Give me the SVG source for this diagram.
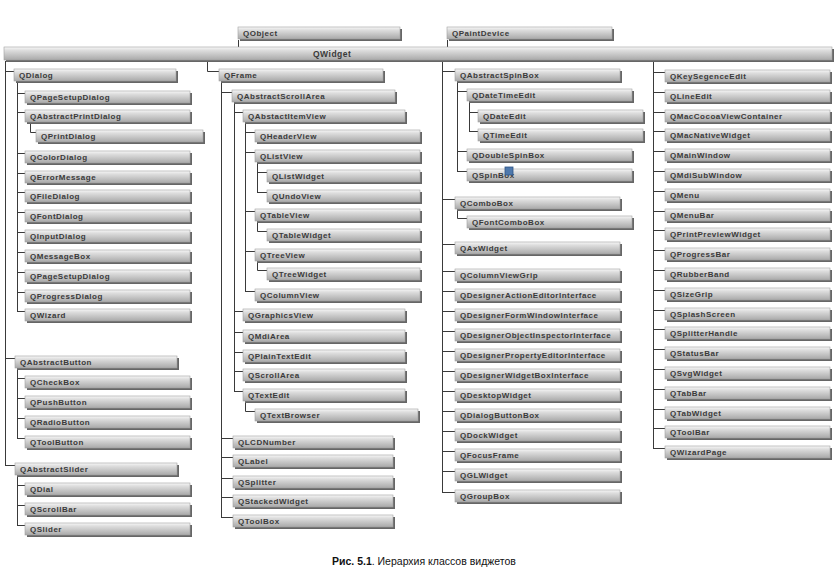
<svg xmlns="http://www.w3.org/2000/svg" width="840" height="577" viewBox="0 0 840 577">
<defs>
<linearGradient id="g" x1="0" y1="0" x2="0" y2="1">
<stop offset="0" stop-color="#f8f8f8"/>
<stop offset="0.25" stop-color="#dedede"/>
<stop offset="1" stop-color="#a9a9a9"/>
</linearGradient>
</defs>
<style>
.s{fill:#666}
.b{fill:url(#g);stroke:#a0a0a0;stroke-width:0.6}
.t{font-family:"Liberation Sans",Arial,sans-serif;font-weight:bold;font-size:8px;fill:#3a3a3a;letter-spacing:0.5px}
.c{fill:none;stroke:#3a3a3a;stroke-width:1}
.cap{font-family:"Liberation Sans",Arial,sans-serif;font-size:10.5px;fill:#111}
</style>
<rect width="840" height="577" fill="#fff"/>

<g id="connectors" class="c">
<path d="M238.5 40 V47 M447.5 40 V47"/>
<!-- column 1 -->
<path d="M5.5 61 V465 M5 71.5 H14 M5 358.5 H15 M5 465.5 H15"/>
<path d="M17.5 81 V311 M17 93.5 H25 M17 112.5 H25 M17 153.5 H25 M17 173.5 H25 M17 192.5 H25 M17 212.5 H25 M17 232.5 H25 M17 252.5 H25 M17 272.5 H25 M17 292.5 H25 M17 311.5 H25"/>
<path d="M30.5 122 V132.5 H36"/>
<path d="M17.5 368 V438 M17 378.5 H25 M17 398.5 H25 M17 418.5 H25 M17 438.5 H25"/>
<path d="M17.5 475 V525 M17 485.5 H25 M17 505.5 H25 M17 525.5 H25"/>
<!-- column 2 -->
<path d="M207.5 61 V71.5 H219"/>
<path d="M221.5 81 V517 M221 92.5 H232 M221 438.5 H233 M221 457.5 H233 M221 478.5 H233 M221 497.5 H233 M221 517.5 H233"/>
<path d="M234.5 102 V391 M234 112.5 H243 M234 311.5 H243 M234 332.5 H243 M234 352.5 H243 M234 371.5 H243 M234 391.5 H243"/>
<path d="M245.5 122 V291 M245 132.5 H255 M245 152.5 H255 M245 211.5 H255 M245 251.5 H255 M245 291.5 H255"/>
<path d="M257.5 162 V192 M257 172.5 H267 M257 192.5 H267"/>
<path d="M257.5 221 V231.5 H267 M257.5 261 V270.5 H267"/>
<path d="M245.5 401 V411.5 H255"/>
<!-- column 3 -->
<path d="M442.5 61 V492 M442 71.5 H455 M442 199.5 H455 M442 244.5 H455 M442 271.5 H455 M442 291.5 H455 M442 311.5 H455 M442 331.5 H455 M442 351.5 H455 M442 371.5 H455 M442 391.5 H455 M442 411.5 H455 M442 431.5 H455 M442 451.5 H455 M442 471.5 H455 M442 492.5 H455"/>
<path d="M457.5 81 V171 M457 91.5 H467 M457 151.5 H467 M457 171.5 H467"/>
<path d="M469.5 101 V131 M469 112.5 H478 M469 131.5 H478"/>
<path d="M457.5 209 V218.5 H467"/>
<!-- column 4 -->
<path d="M653.5 61 V448 M653 72.5 H665 M653 92.5 H665 M653 112.5 H665 M653 131.5 H665 M653 151.5 H665 M653 171.5 H665 M653 191.5 H665 M653 211.5 H665 M653 230.5 H665 M653 250.5 H665 M653 270.5 H665 M653 290.5 H665 M653 310.5 H665 M653 329.5 H665 M653 349.5 H665 M653 369.5 H665 M653 389.5 H665 M653 409.5 H665 M653 428.5 H665 M653 448.5 H665"/>
</g>

<g id="QObject"><rect class="s" x="240" y="29" width="162" height="12"/><rect class="b" x="238" y="27" width="162" height="12"/><text class="t" x="243" y="36">QObject</text></g>
<g id="QPaintDevice"><rect class="s" x="449" y="29" width="165" height="12"/><rect class="b" x="447" y="27" width="165" height="12"/><text class="t" x="452" y="36">QPaintDevice</text></g>
<g id="QWidget"><rect class="s" x="6" y="49" width="828" height="13"/><rect class="b" x="4" y="47" width="828" height="13"/><text class="t" x="313" y="57" style="font-size:8.5px">QWidget</text></g>

<!-- column 1 -->
<g id="QDialog"><rect class="s" x="16" y="71" width="162" height="12"/><rect class="b" x="14" y="69" width="162" height="12"/><text class="t" x="19" y="78">QDialog</text></g>
<g id="QPageSetupDialog"><rect class="s" x="27" y="93" width="165" height="12"/><rect class="b" x="25" y="91" width="165" height="12"/><text class="t" x="30" y="100">QPageSetupDialog</text></g>
<g id="QAbstractPrintDialog"><rect class="s" x="27" y="112" width="165" height="12"/><rect class="b" x="25" y="110" width="165" height="12"/><text class="t" x="30" y="119">QAbstractPrintDialog</text></g>
<g id="QPrintDialog"><rect class="s" x="38" y="132" width="167" height="12"/><rect class="b" x="36" y="130" width="167" height="12"/><text class="t" x="41" y="139">QPrintDialog</text></g>
<g id="QColorDialog"><rect class="s" x="27" y="153" width="165" height="12"/><rect class="b" x="25" y="151" width="165" height="12"/><text class="t" x="30" y="160">QColorDialog</text></g>
<g id="QErrorMessage"><rect class="s" x="27" y="173" width="165" height="12"/><rect class="b" x="25" y="171" width="165" height="12"/><text class="t" x="30" y="180">QErrorMessage</text></g>
<g id="QFileDialog"><rect class="s" x="27" y="192" width="165" height="12"/><rect class="b" x="25" y="190" width="165" height="12"/><text class="t" x="30" y="199">QFileDialog</text></g>
<g id="QFontDialog"><rect class="s" x="27" y="212" width="165" height="12"/><rect class="b" x="25" y="210" width="165" height="12"/><text class="t" x="30" y="219">QFontDialog</text></g>
<g id="QInputDialog"><rect class="s" x="27" y="232" width="165" height="12"/><rect class="b" x="25" y="230" width="165" height="12"/><text class="t" x="30" y="239">QInputDialog</text></g>
<g id="QMessageBox"><rect class="s" x="27" y="252" width="165" height="12"/><rect class="b" x="25" y="250" width="165" height="12"/><text class="t" x="30" y="259">QMessageBox</text></g>
<g id="QPageSetupDialog2"><rect class="s" x="27" y="272" width="165" height="12"/><rect class="b" x="25" y="270" width="165" height="12"/><text class="t" x="30" y="279">QPageSetupDialog</text></g>
<g id="QProgressDialog"><rect class="s" x="27" y="292" width="165" height="12"/><rect class="b" x="25" y="290" width="165" height="12"/><text class="t" x="30" y="299">QProgressDialog</text></g>
<g id="QWizard"><rect class="s" x="27" y="311" width="165" height="12"/><rect class="b" x="25" y="309" width="165" height="12"/><text class="t" x="30" y="318">QWizard</text></g>
<g id="QAbstractButton"><rect class="s" x="17" y="358" width="162" height="12"/><rect class="b" x="15" y="356" width="162" height="12"/><text class="t" x="20" y="365">QAbstractButton</text></g>
<g id="QCheckBox"><rect class="s" x="27" y="378" width="165" height="12"/><rect class="b" x="25" y="376" width="165" height="12"/><text class="t" x="30" y="385">QCheckBox</text></g>
<g id="QPushButton"><rect class="s" x="27" y="398" width="165" height="12"/><rect class="b" x="25" y="396" width="165" height="12"/><text class="t" x="30" y="405">QPushButton</text></g>
<g id="QRadioButton"><rect class="s" x="27" y="418" width="165" height="12"/><rect class="b" x="25" y="416" width="165" height="12"/><text class="t" x="30" y="425">QRadioButton</text></g>
<g id="QToolButton"><rect class="s" x="27" y="438" width="165" height="12"/><rect class="b" x="25" y="436" width="165" height="12"/><text class="t" x="30" y="445">QToolButton</text></g>
<g id="QAbstractSlider"><rect class="s" x="17" y="465" width="162" height="12"/><rect class="b" x="15" y="463" width="162" height="12"/><text class="t" x="20" y="472">QAbstractSlider</text></g>
<g id="QDial"><rect class="s" x="27" y="485" width="165" height="12"/><rect class="b" x="25" y="483" width="165" height="12"/><text class="t" x="30" y="492">QDial</text></g>
<g id="QScrollBar"><rect class="s" x="27" y="505" width="165" height="12"/><rect class="b" x="25" y="503" width="165" height="12"/><text class="t" x="30" y="512">QScrollBar</text></g>
<g id="QSlider"><rect class="s" x="27" y="525" width="165" height="12"/><rect class="b" x="25" y="523" width="165" height="12"/><text class="t" x="30" y="532">QSlider</text></g>

<!-- column 2 -->
<g id="QFrame"><rect class="s" x="221" y="71" width="164" height="12"/><rect class="b" x="219" y="69" width="164" height="12"/><text class="t" x="224" y="78">QFrame</text></g>
<g id="QAbstractScrollArea"><rect class="s" x="234" y="92" width="163" height="12"/><rect class="b" x="232" y="90" width="163" height="12"/><text class="t" x="237" y="99">QAbstractScrollArea</text></g>
<g id="QAbstactItemView"><rect class="s" x="245" y="112" width="162" height="12"/><rect class="b" x="243" y="110" width="162" height="12"/><text class="t" x="248" y="119">QAbstactItemView</text></g>
<g id="QHeaderView"><rect class="s" x="257" y="132" width="165" height="12"/><rect class="b" x="255" y="130" width="165" height="12"/><text class="t" x="260" y="139">QHeaderView</text></g>
<g id="QListView"><rect class="s" x="257" y="152" width="165" height="12"/><rect class="b" x="255" y="150" width="165" height="12"/><text class="t" x="260" y="159">QListView</text></g>
<g id="QListWidget"><rect class="s" x="269" y="172" width="153" height="12"/><rect class="b" x="267" y="170" width="153" height="12"/><text class="t" x="272" y="179">QListWidget</text></g>
<g id="QUndoView"><rect class="s" x="269" y="192" width="153" height="12"/><rect class="b" x="267" y="190" width="153" height="12"/><text class="t" x="272" y="199">QUndoView</text></g>
<g id="QTableView"><rect class="s" x="257" y="211" width="165" height="12"/><rect class="b" x="255" y="209" width="165" height="12"/><text class="t" x="260" y="218">QTableView</text></g>
<g id="QTableWidget"><rect class="s" x="269" y="231" width="153" height="12"/><rect class="b" x="267" y="229" width="153" height="12"/><text class="t" x="272" y="238">QTableWidget</text></g>
<g id="QTreeView"><rect class="s" x="257" y="251" width="165" height="12"/><rect class="b" x="255" y="249" width="165" height="12"/><text class="t" x="260" y="258">QTreeView</text></g>
<g id="QTreeWidget"><rect class="s" x="269" y="270" width="153" height="12"/><rect class="b" x="267" y="268" width="153" height="12"/><text class="t" x="272" y="277">QTreeWidget</text></g>
<g id="QColumnView"><rect class="s" x="257" y="291" width="165" height="12"/><rect class="b" x="255" y="289" width="165" height="12"/><text class="t" x="260" y="298">QColumnView</text></g>
<g id="QGraphicsView"><rect class="s" x="245" y="311" width="162" height="12"/><rect class="b" x="243" y="309" width="162" height="12"/><text class="t" x="248" y="318">QGraphicsView</text></g>
<g id="QMdiArea"><rect class="s" x="245" y="332" width="162" height="12"/><rect class="b" x="243" y="330" width="162" height="12"/><text class="t" x="248" y="339">QMdiArea</text></g>
<g id="QPlainTextEdit"><rect class="s" x="245" y="352" width="162" height="12"/><rect class="b" x="243" y="350" width="162" height="12"/><text class="t" x="248" y="359">QPlainTextEdit</text></g>
<g id="QScrollArea"><rect class="s" x="245" y="371" width="162" height="12"/><rect class="b" x="243" y="369" width="162" height="12"/><text class="t" x="248" y="378">QScrollArea</text></g>
<g id="QTextEdit"><rect class="s" x="245" y="391" width="162" height="12"/><rect class="b" x="243" y="389" width="162" height="12"/><text class="t" x="248" y="398">QTextEdit</text></g>
<g id="QTextBrowser"><rect class="s" x="257" y="411" width="163" height="12"/><rect class="b" x="255" y="409" width="163" height="12"/><text class="t" x="260" y="418">QTextBrowser</text></g>
<g id="QLCDNumber"><rect class="s" x="235" y="438" width="160" height="12"/><rect class="b" x="233" y="436" width="160" height="12"/><text class="t" x="238" y="445">QLCDNumber</text></g>
<g id="QLabel"><rect class="s" x="235" y="457" width="160" height="12"/><rect class="b" x="233" y="455" width="160" height="12"/><text class="t" x="238" y="464">QLabel</text></g>
<g id="QSplitter"><rect class="s" x="235" y="478" width="160" height="12"/><rect class="b" x="233" y="476" width="160" height="12"/><text class="t" x="238" y="485">QSplitter</text></g>
<g id="QStackedWidget"><rect class="s" x="235" y="497" width="160" height="12"/><rect class="b" x="233" y="495" width="160" height="12"/><text class="t" x="238" y="504">QStackedWidget</text></g>
<g id="QToolBox"><rect class="s" x="235" y="517" width="160" height="12"/><rect class="b" x="233" y="515" width="160" height="12"/><text class="t" x="238" y="524">QToolBox</text></g>

<!-- column 3 -->
<g id="QAbstractSpinBox"><rect class="s" x="457" y="71" width="165" height="12"/><rect class="b" x="455" y="69" width="165" height="12"/><text class="t" x="460" y="78">QAbstractSpinBox</text></g>
<g id="QDateTimeEdit"><rect class="s" x="469" y="91" width="165" height="12"/><rect class="b" x="467" y="89" width="165" height="12"/><text class="t" x="472" y="98">QDateTimeEdit</text></g>
<g id="QDateEdit"><rect class="s" x="480" y="112" width="165" height="12"/><rect class="b" x="478" y="110" width="165" height="12"/><text class="t" x="483" y="119">QDateEdit</text></g>
<g id="QTimeEdit"><rect class="s" x="480" y="131" width="165" height="12"/><rect class="b" x="478" y="129" width="165" height="12"/><text class="t" x="483" y="138">QTimeEdit</text></g>
<g id="QDoubleSpinBox"><rect class="s" x="469" y="151" width="165" height="12"/><rect class="b" x="467" y="149" width="165" height="12"/><text class="t" x="472" y="158">QDoubleSpinBox</text></g>
<g id="QSpinBox"><rect class="s" x="469" y="171" width="165" height="12"/><rect class="b" x="467" y="169" width="165" height="12"/><text class="t" x="472" y="178">QSpinBox</text><rect x="505" y="167" width="8" height="8" fill="#4f79ad" stroke="#2f5585" stroke-width="0.8"/></g>
<g id="QComboBox"><rect class="s" x="457" y="199" width="165" height="12"/><rect class="b" x="455" y="197" width="165" height="12"/><text class="t" x="460" y="206">QComboBox</text></g>
<g id="QFontComboBox"><rect class="s" x="469" y="218" width="165" height="12"/><rect class="b" x="467" y="216" width="165" height="12"/><text class="t" x="472" y="225">QFontComboBox</text></g>
<g id="QAxWidget"><rect class="s" x="457" y="244" width="165" height="12"/><rect class="b" x="455" y="242" width="165" height="12"/><text class="t" x="460" y="251">QAxWidget</text></g>
<g id="QColumnViewGrip"><rect class="s" x="457" y="271" width="165" height="12"/><rect class="b" x="455" y="269" width="165" height="12"/><text class="t" x="460" y="278">QColumnViewGrip</text></g>
<g id="QDesignerActionEditorInterface"><rect class="s" x="457" y="291" width="165" height="12"/><rect class="b" x="455" y="289" width="165" height="12"/><text class="t" x="460" y="298">QDesignerActionEditorInterface</text></g>
<g id="QDesignerFormWindowInterface"><rect class="s" x="457" y="311" width="165" height="12"/><rect class="b" x="455" y="309" width="165" height="12"/><text class="t" x="460" y="318">QDesignerFormWindowInterface</text></g>
<g id="QDesignerObjectInspectorInterface"><rect class="s" x="457" y="331" width="165" height="12"/><rect class="b" x="455" y="329" width="165" height="12"/><text class="t" x="460" y="338">QDesignerObjectInspectorInterface</text></g>
<g id="QDesignerPropertyEditorInterface"><rect class="s" x="457" y="351" width="165" height="12"/><rect class="b" x="455" y="349" width="165" height="12"/><text class="t" x="460" y="358">QDesignerPropertyEditorInterface</text></g>
<g id="QDesignerWidgetBoxInterface"><rect class="s" x="457" y="371" width="165" height="12"/><rect class="b" x="455" y="369" width="165" height="12"/><text class="t" x="460" y="378">QDesignerWidgetBoxInterface</text></g>
<g id="QDesktopWidget"><rect class="s" x="457" y="391" width="165" height="12"/><rect class="b" x="455" y="389" width="165" height="12"/><text class="t" x="460" y="398">QDesktopWidget</text></g>
<g id="QDialogButtonBox"><rect class="s" x="457" y="411" width="165" height="12"/><rect class="b" x="455" y="409" width="165" height="12"/><text class="t" x="460" y="418">QDialogButtonBox</text></g>
<g id="QDockWidget"><rect class="s" x="457" y="431" width="165" height="12"/><rect class="b" x="455" y="429" width="165" height="12"/><text class="t" x="460" y="438">QDockWidget</text></g>
<g id="QFocusFrame"><rect class="s" x="457" y="451" width="165" height="12"/><rect class="b" x="455" y="449" width="165" height="12"/><text class="t" x="460" y="458">QFocusFrame</text></g>
<g id="QGLWidget"><rect class="s" x="457" y="471" width="165" height="12"/><rect class="b" x="455" y="469" width="165" height="12"/><text class="t" x="460" y="478">QGLWidget</text></g>
<g id="QGroupBox"><rect class="s" x="457" y="492" width="165" height="12"/><rect class="b" x="455" y="490" width="165" height="12"/><text class="t" x="460" y="499">QGroupBox</text></g>

<!-- column 4 -->
<g id="QKeySegenceEdit"><rect class="s" x="667" y="72" width="165" height="12"/><rect class="b" x="665" y="70" width="165" height="12"/><text class="t" x="670" y="79">QKeySegenceEdit</text></g>
<g id="QLineEdit"><rect class="s" x="667" y="92" width="165" height="12"/><rect class="b" x="665" y="90" width="165" height="12"/><text class="t" x="670" y="99">QLineEdit</text></g>
<g id="QMacCocoaViewContainer"><rect class="s" x="667" y="112" width="165" height="12"/><rect class="b" x="665" y="110" width="165" height="12"/><text class="t" x="670" y="119">QMacCocoaViewContainer</text></g>
<g id="QMacNativeWidget"><rect class="s" x="667" y="131" width="165" height="12"/><rect class="b" x="665" y="129" width="165" height="12"/><text class="t" x="670" y="138">QMacNativeWidget</text></g>
<g id="QMainWindow"><rect class="s" x="667" y="151" width="165" height="12"/><rect class="b" x="665" y="149" width="165" height="12"/><text class="t" x="670" y="158">QMainWindow</text></g>
<g id="QMdiSubWindow"><rect class="s" x="667" y="171" width="165" height="12"/><rect class="b" x="665" y="169" width="165" height="12"/><text class="t" x="670" y="178">QMdiSubWindow</text></g>
<g id="QMenu"><rect class="s" x="667" y="191" width="165" height="12"/><rect class="b" x="665" y="189" width="165" height="12"/><text class="t" x="670" y="198">QMenu</text></g>
<g id="QMenuBar"><rect class="s" x="667" y="211" width="165" height="12"/><rect class="b" x="665" y="209" width="165" height="12"/><text class="t" x="670" y="218">QMenuBar</text></g>
<g id="QPrintPreviewWidget"><rect class="s" x="667" y="230" width="165" height="12"/><rect class="b" x="665" y="228" width="165" height="12"/><text class="t" x="670" y="237">QPrintPreviewWidget</text></g>
<g id="QProgressBar"><rect class="s" x="667" y="250" width="165" height="12"/><rect class="b" x="665" y="248" width="165" height="12"/><text class="t" x="670" y="257">QProgressBar</text></g>
<g id="QRubberBand"><rect class="s" x="667" y="270" width="165" height="12"/><rect class="b" x="665" y="268" width="165" height="12"/><text class="t" x="670" y="277">QRubberBand</text></g>
<g id="QSizeGrip"><rect class="s" x="667" y="290" width="165" height="12"/><rect class="b" x="665" y="288" width="165" height="12"/><text class="t" x="670" y="297">QSizeGrip</text></g>
<g id="QSplashScreen"><rect class="s" x="667" y="310" width="165" height="12"/><rect class="b" x="665" y="308" width="165" height="12"/><text class="t" x="670" y="317">QSplashScreen</text></g>
<g id="QSplitterHandle"><rect class="s" x="667" y="329" width="165" height="12"/><rect class="b" x="665" y="327" width="165" height="12"/><text class="t" x="670" y="336">QSplitterHandle</text></g>
<g id="QStatusBar"><rect class="s" x="667" y="349" width="165" height="12"/><rect class="b" x="665" y="347" width="165" height="12"/><text class="t" x="670" y="356">QStatusBar</text></g>
<g id="QSvgWidget"><rect class="s" x="667" y="369" width="165" height="12"/><rect class="b" x="665" y="367" width="165" height="12"/><text class="t" x="670" y="376">QSvgWidget</text></g>
<g id="QTabBar"><rect class="s" x="667" y="389" width="165" height="12"/><rect class="b" x="665" y="387" width="165" height="12"/><text class="t" x="670" y="396">QTabBar</text></g>
<g id="QTabWidget"><rect class="s" x="667" y="409" width="165" height="12"/><rect class="b" x="665" y="407" width="165" height="12"/><text class="t" x="670" y="416">QTabWidget</text></g>
<g id="QToolBar"><rect class="s" x="667" y="428" width="165" height="12"/><rect class="b" x="665" y="426" width="165" height="12"/><text class="t" x="670" y="435">QToolBar</text></g>
<g id="QWizardPage"><rect class="s" x="667" y="448" width="165" height="12"/><rect class="b" x="665" y="446" width="165" height="12"/><text class="t" x="670" y="455">QWizardPage</text></g>

<text class="cap" x="332" y="565"><tspan font-weight="bold">Рис. 5.1</tspan>. Иерархия классов виджетов</text>
</svg>
